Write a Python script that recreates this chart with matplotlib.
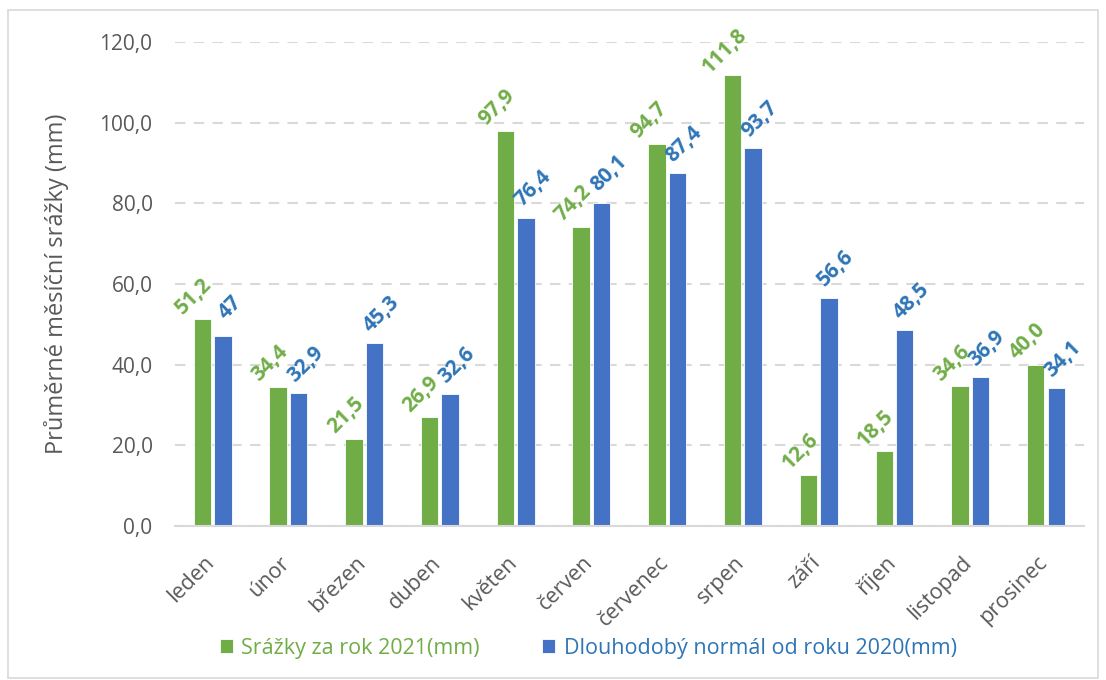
import numpy as np
import matplotlib
matplotlib.use("Agg")
import matplotlib.pyplot as plt
from matplotlib.patches import Rectangle

months = ["leden", "únor", "březen", "duben", "květen", "červen",
          "červenec", "srpen", "září", "říjen", "listopad", "prosinec"]
rain_2021 = [51.2, 34.4, 21.5, 26.9, 97.9, 74.2, 94.7, 111.8, 12.6, 18.5, 34.6, 40.0]
normal = [47, 32.9, 45.3, 32.6, 76.4, 80.1, 87.4, 93.7, 56.6, 48.5, 36.9, 34.1]
labels_2021 = ["51,2", "34,4", "21,5", "26,9", "97,9", "74,2", "94,7", "111,8",
               "12,6", "18,5", "34,6", "40,0"]
labels_normal = ["47", "32,9", "45,3", "32,6", "76,4", "80,1", "87,4", "93,7",
                 "56,6", "48,5", "36,9", "34,1"]
yticks = [0, 20, 40, 60, 80, 100, 120]

green, blue, blue_txt, grey = "#70AD47", "#4472C4", "#2E75B6", "#595959"
plt.rcParams['font.family'] = ["Open Sans", "DejaVu Sans"]

fig = plt.figure(figsize=(11.06, 6.8), dpi=100)
ax = fig.add_axes([0.158, 0.2265, 0.822, 0.7118])

x = np.arange(len(months))
w = 0.23
gap = 0.04
b1 = ax.bar(x - w / 2 - gap / 2, rain_2021, w, color=green, edgecolor="white",
            linewidth=0.6, label="Srážky za rok 2021(mm)")
b2 = ax.bar(x + w / 2 + gap / 2, normal, w, color=blue, edgecolor="white",
            linewidth=0.6, label="Dlouhodobý normál od roku 2020(mm)")

# label offsets in points (centre of the rotated label relative to bar top)
for bars, labs, col, off in ((b1, labels_2021, green, (-6, 17)),
                             (b2, labels_normal, blue_txt, (5, 21))):
    for r, lab in zip(bars, labs):
        ax.annotate(lab, (r.get_x() + r.get_width() / 2, r.get_height()),
                    xytext=off, textcoords="offset points", rotation=45,
                    ha="center", va="center", color=col, fontsize=15, fontweight="bold")

ax.set_xlim(-0.5, len(months) - 0.5)
ax.set_ylim(0, 120)
ax.set_yticks(yticks)
ax.set_yticklabels([f"{v:.1f}".replace(".", ",") for v in yticks], color=grey, fontsize=15)
ax.set_xticks(x)
ax.set_xticklabels([])
# month names drawn as annotations so they can be nudged like Excel does
for xi, m in zip(x, months):
    ax.annotate(m, (xi, 0), xycoords=("data", "axes fraction"),
                xytext=(-6.5, -19), textcoords="offset points", rotation=45,
                ha="right", va="top", rotation_mode="anchor", color=grey, fontsize=15.5)
ax.tick_params(length=0, axis="y", pad=16)
ax.tick_params(length=0, axis="x")
ax.yaxis.grid(True, color="#D9D9D9", linestyle=(0, (5, 4)), linewidth=1.5)
ax.set_axisbelow(True)
for s in ["top", "right", "left"]:
    ax.spines[s].set_visible(False)
ax.spines["bottom"].set_color("#D9D9D9")
ax.spines["bottom"].set_linewidth(1.5)
ax.set_ylabel("Průměrné měsíční srážky (mm)", color=grey, fontsize=17, labelpad=22)

leg = fig.legend(handles=[b1, b2], loc="center", bbox_to_anchor=(0.532, 0.047), ncol=2,
                 frameon=False, fontsize=15.5, handlelength=0.6, handleheight=0.6,
                 handletextpad=0.4, columnspacing=2.9)
for t, c in zip(leg.get_texts(), (green, blue_txt)):
    t.set_color(c)

fig.patches.append(Rectangle((0.007, 0.003), 0.986, 0.982, transform=fig.transFigure,
                             fill=False, edgecolor="#D9D9D9", linewidth=1.2))

fig.savefig("out.png", dpi=100, facecolor="white")
